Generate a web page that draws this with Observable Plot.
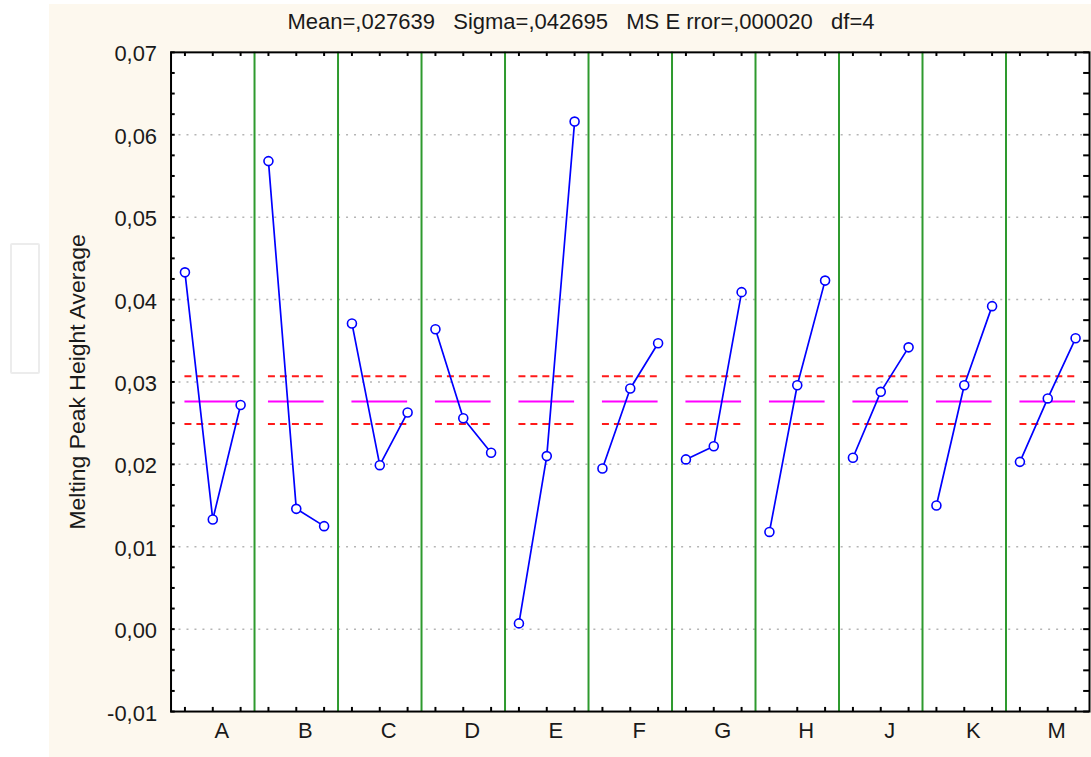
<!DOCTYPE html>
<html><head><meta charset="utf-8">
<script src="https://cdn.jsdelivr.net/npm/d3@7"></script>
<script src="https://cdn.jsdelivr.net/npm/@observablehq/plot@0.6"></script>
<style>
html,body{margin:0;padding:0;background:#fff;overflow:hidden;}
#wrap{position:relative;width:1091px;height:757px;overflow:hidden;background:#fff;font-family:"Liberation Sans",Arial,sans-serif;}
#beige{position:absolute;left:49px;top:4px;right:0;bottom:0;background:#fdf8ee;}
#box{position:absolute;left:10px;top:243px;width:26px;height:127px;border:2px solid #ececec;border-radius:2px;background:#fff;}
#title{position:absolute;left:0;width:1162px;top:9px;line-height:26px;text-align:center;font-size:22px;white-space:pre;color:#1a1a1a;}
#chart{position:absolute;left:0;top:0;}
</style>
</head>
<body>
<div id="wrap">
  <div id="beige"></div>
  <div id="box"></div>
  <div id="chart"></div>
  <div id="title"></div>
</div>
<script>
const titleText = "Mean=,027639   Sigma=,042695   MS E rror=,000020   df=4";
const yAxisLabel = "Melting Peak Height Average";
const factors = ["A","B","C","D","E","F","G","H","J","K","M"];
const level1 = [0.0433,0.0568,0.0371,0.0364,0.0007,0.0195,0.0206,0.0118,0.0208,0.0150,0.0203];
const level2 = [0.0133,0.0146,0.0199,0.0256,0.0210,0.0292,0.0222,0.0296,0.0288,0.0296,0.0280];
const level3 = [0.0272,0.0125,0.0263,0.0214,0.0616,0.0347,0.0409,0.0423,0.0342,0.0392,0.0353];
const grandMean = 0.027639;
const upperLimit = 0.0307;
const lowerLimit = 0.0249;
const yTickValues = [-0.01,0,0.01,0.02,0.03,0.04,0.05,0.06,0.07];
const gridValues = [0,0.01,0.02,0.03,0.04,0.05,0.06];
const levelOffsets = [1/6, 1/2, 5/6];

document.getElementById("title").textContent = titleText;

const levels = [level1, level2, level3];
const rows = [];
factors.forEach((f, i) => {
  levels.forEach((lv, j) => rows.push({factor: f, x: i + levelOffsets[j], value: lv[i]}));
});
const groups = factors.map((f, i) => ({factor: f, i}));
const separators = d3.range(1, factors.length);
const minorTicks = d3.range(0, 33).map(k => -0.01 + k * 0.0025);
const pointPositions = rows.map(d => d.x);
const fmt = v => d3.format(".2f")(v).replace("−", "-").replace(".", ",");

const chart = Plot.plot({
  width: 1094,
  height: 757,
  marginLeft: 171,
  marginRight: 2,
  marginTop: 52,
  marginBottom: 44,
  x: {domain: [0, factors.length], axis: null},
  y: {domain: [-0.01, 0.07]},
  style: {background: "transparent", fontFamily: "'Liberation Sans', Arial, sans-serif", color: "#1a1a1a", overflow: "visible"},
  marks: [
    Plot.frame({fill: "white"}),
    Plot.ruleY(gridValues, {stroke: "#b5b5b5", strokeWidth: 1.5, strokeDasharray: "2,6"}),
    Plot.ruleX(separators, {stroke: "#2e9a2e", strokeWidth: 2}),
    Plot.ruleY(groups, {y: () => upperLimit, x1: d => d.i + levelOffsets[0], x2: d => d.i + levelOffsets[2], stroke: "#ff1a1a", strokeWidth: 2, strokeDasharray: "7,5"}),
    Plot.ruleY(groups, {y: () => lowerLimit, x1: d => d.i + levelOffsets[0], x2: d => d.i + levelOffsets[2], stroke: "#ff1a1a", strokeWidth: 2, strokeDasharray: "7,5"}),
    Plot.ruleY(groups, {y: () => grandMean, x1: d => d.i + levelOffsets[0], x2: d => d.i + levelOffsets[2], stroke: "#ff00ff", strokeWidth: 2}),
    Plot.line(rows, {x: "x", y: "value", z: "factor", stroke: "#0000ff", strokeWidth: 1.7}),
    Plot.dot(rows, {x: "x", y: "value", r: 4.5, stroke: "#0000ff", strokeWidth: 1.6, fill: "white"}),
    Plot.ruleY(minorTicks, {x1: 0, x2: 0.05, stroke: "black", strokeWidth: 2}),
    Plot.ruleY(minorTicks, {x1: factors.length - 0.07, x2: factors.length, stroke: "black", strokeWidth: 2}),
    Plot.ruleX(pointPositions, {y1: 0.07, y2: 0.0695, stroke: "black", strokeWidth: 2}),
    Plot.ruleX(pointPositions, {y1: -0.01, y2: -0.0095, stroke: "black", strokeWidth: 2}),
    Plot.frame({stroke: "black", strokeWidth: 2}),
    Plot.axisY(yTickValues, {tickSize: 0, tickPadding: 14, tickFormat: fmt, fontSize: 22, dy: 2, label: null}),
    Plot.text(groups, {x: d => d.i + 0.5, text: "factor", frameAnchor: "bottom", dy: 27, dx: 9, fontSize: 22}),
    Plot.text([yAxisLabel], {frameAnchor: "left", textAnchor: "middle", dx: -94, rotate: -90, fontSize: 23})
  ]
});
document.getElementById("chart").appendChild(chart);
</script>
</body></html>
